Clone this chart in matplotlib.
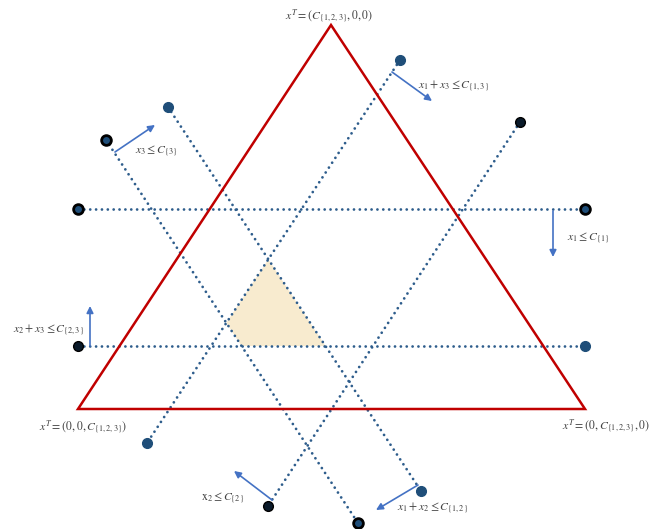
import matplotlib
matplotlib.use("Agg")
import matplotlib.pyplot as plt
import numpy as np
from matplotlib.patches import Polygon

plt.rcParams['mathtext.fontset'] = 'stix'
plt.rcParams['font.family'] = ['STIXGeneral', 'DejaVu Serif']

# Diagram geometry (pixel-space coordinates of the reference)
triangle_x = [331, 78, 585]
triangle_y = [25, 409, 409]

# constraint lines: (x0, y0, x1, y1)
line_starts_x = [78, 78, 106, 168, 400, 520]
line_starts_y = [209, 346, 140, 107, 60, 122]
line_ends_x = [585, 585, 358, 421, 147, 268]
line_ends_y = [209, 346, 523, 491, 443, 506]
# marker style at start / end: 'b' blue dot, 'k' black-ringed dot, 's' black blotch
start_markers = ['k', 's', 'k', 'b', 'b', 's']
end_markers = ['k', 'b', 'k', 'b', 'b', 's']

# arrows: (x_tail, y_tail, x_head, y_head)
arrow_tail_x = [115, 392, 553, 90, 272, 418]
arrow_tail_y = [152, 72, 211, 346, 500, 485]
arrow_head_x = [155, 432, 553, 90, 234, 376]
arrow_head_y = [125, 101, 257, 306, 471, 510]

labels = [r'$x_3 \leq C_{\{3\}}$', r'$x_1 + x_3 \leq C_{\{1,3\}}$', r'$x_1 \leq C_{\{1\}}$',
          r'$x_2 + x_3 \leq C_{\{2,3\}}$', r'$\mathrm{x}_2 \leq C_{\{2\}}$', r'$x_1 + x_2 \leq C_{\{1,2\}}$']
label_x = [135, 418, 567, 84, 201, 397]
label_y = [151, 86, 238, 330, 498, 508]
label_ha = ['left', 'left', 'left', 'right', 'left', 'left']

vertex_labels = [r'$x^T = (C_{\{1,2,3\}}, 0, 0)$', r'$x^T = (0, 0, C_{\{1,2,3\}})$',
                 r'$x^T = (0, C_{\{1,2,3\}}, 0)$']
vertex_label_x = [329, 83, 606]
vertex_label_y = [16, 427, 426]

fig = plt.figure(figsize=(6.51, 5.29), dpi=100)
ax = fig.add_axes([0, 0, 1, 1])
ax.set_xlim(0, 651)
ax.set_ylim(529, 0)
ax.axis('off')

dot_color = '#2e5d8c'
blue = '#1f4e79'


def intersect(i, j):
    p = np.array([line_starts_x[i], line_starts_y[i]], float)
    r = np.array([line_ends_x[i], line_ends_y[i]], float) - p
    q = np.array([line_starts_x[j], line_starts_y[j]], float)
    s = np.array([line_ends_x[j], line_ends_y[j]], float) - q
    A = np.array([r, -s]).T
    t, _ = np.linalg.solve(A, q - p)
    return p + t * r

# feasible region polygon from line intersections
poly = [intersect(3, 4), intersect(4, 2), intersect(2, 1), intersect(1, 3)]
ax.add_patch(Polygon(poly, closed=True, facecolor='#f8ebcf', edgecolor='none', zorder=1))

# triangle
ax.add_patch(Polygon(list(zip(triangle_x, triangle_y)), closed=True, fill=False,
                     edgecolor='#c00000', linewidth=1.8, zorder=3))

for x0, y0, x1, y1 in zip(line_starts_x, line_starts_y, line_ends_x, line_ends_y):
    ax.plot([x0, x1], [y0, y1], color=dot_color, linewidth=2.0,
            linestyle=(0, (0.01, 2.1)), dash_capstyle='round', zorder=2)


def marker(x, y, kind):
    if kind == 'b':
        ax.plot(x, y, 'o', markersize=7, color=blue, markeredgecolor=blue, zorder=5)
    elif kind == 'k':
        ax.plot(x, y, 'o', markersize=7, color=blue, markeredgecolor='black',
                markeredgewidth=2.0, zorder=5)
    else:
        ax.plot(x, y, 'o', markersize=7, color='#0a1a2a', markeredgecolor='black',
                markeredgewidth=1.0, zorder=5)

for x, y, k in zip(line_starts_x, line_starts_y, start_markers):
    marker(x, y, k)
for x, y, k in zip(line_ends_x, line_ends_y, end_markers):
    marker(x, y, k)

for xt, yt, xh, yh in zip(arrow_tail_x, arrow_tail_y, arrow_head_x, arrow_head_y):
    ax.annotate('', xy=(xh, yh), xytext=(xt, yt),
                arrowprops=dict(arrowstyle='-|>', color='#4472c4', lw=1.2,
                                mutation_scale=10, shrinkA=0, shrinkB=0), zorder=6)

for t, x, y, ha in zip(labels, label_x, label_y, label_ha):
    ax.text(x, y, t, ha=ha, va='center', fontsize=8.5, color='#404040')

for t, x, y in zip(vertex_labels, vertex_label_x, vertex_label_y):
    ax.text(x, y, t, ha='center', va='center', fontsize=8.5, color='#404040')

fig.savefig('out.png', dpi=100)
